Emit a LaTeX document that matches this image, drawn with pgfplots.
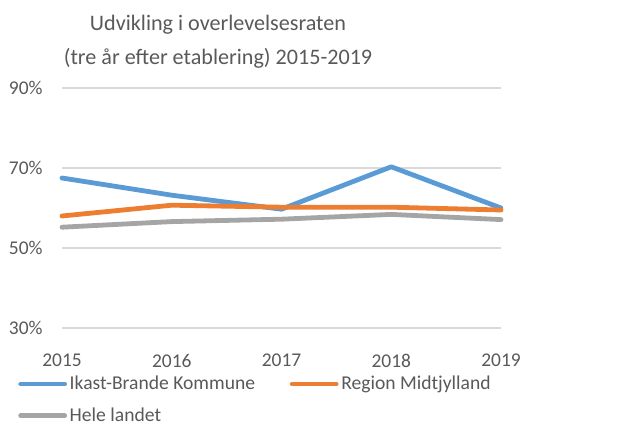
\documentclass[border=0pt]{standalone}
\usepackage{pgfplots}
\pgfplotsset{compat=1.18}
\usepackage{fontspec}
\setmainfont{Carlito}
\definecolor{cblue}{HTML}{5B9BD5}
\definecolor{corange}{HTML}{ED7D31}
\definecolor{cgray}{HTML}{A5A5A5}
\definecolor{ctext}{HTML}{595959}
\definecolor{cgrid}{HTML}{D9D9D9}
\begin{document}
\begin{tikzpicture}
\path[use as bounding box] (-46.5pt,-74.25pt) rectangle (422.25pt,246pt);
\begin{axis}[
  at={(0,0)}, anchor=south west,
  scale only axis, width=329.25pt, height=180pt,
  xmin=2015, xmax=2019, ymin=30, ymax=90,
  axis line style={draw=none},
  ymajorgrids, grid style={cgrid, line width=1pt},
  ytick={30,50,70,90}, yticklabels={30\%,50\%,70\%,90\%},
  xtick={2015,2016,2017,2018,2019}, xticklabels={2015,2016,2017,2018,2019},
  major tick length=0pt,
  ticklabel style={font=\fontsize{14.6}{17}\selectfont, text=ctext},
  yticklabel style={xshift=-11pt},
  xticklabel style={yshift=-16pt},
  clip=false,
  legend columns=2,
  legend cell align=left,
  legend style={draw=none, fill=none, at={(0,0)}, anchor=north west,
    xshift=-33pt, yshift=-34pt, inner sep=0pt,
    font=\fontsize{14.7}{17}\selectfont, text=ctext,
    /tikz/every even column/.append style={column sep=24pt},
    row sep=8pt},
  legend image code/.code={\draw[line width=3.6pt, line cap=round] (0pt,0pt) -- (33pt,0pt);},
  every axis plot/.append style={line width=3.6pt, line cap=round, line join=round},
]
\addplot[cblue] coordinates {(2015,67.5) (2016,63.2) (2017,59.7) (2018,70.3) (2019,60.0)};
\addlegendentry{Ikast-Brande Kommune}
\addplot[corange] coordinates {(2015,58.0) (2016,60.7) (2017,60.2) (2018,60.2) (2019,59.5)};
\addlegendentry{Region Midtjylland}
\addplot[cgray] coordinates {(2015,55.2) (2016,56.6) (2017,57.2) (2018,58.4) (2019,57.1)};
\addlegendentry{Hele landet}
\end{axis}
\node[text=ctext] at (117pt,227.25pt) {\fontsize{16.6}{19}\selectfont Udvikling i overlevelsesraten};
\node[text=ctext] at (117pt,202.5pt) {\fontsize{16.6}{19}\selectfont (tre år efter etablering) 2015-2019};
\end{tikzpicture}
\end{document}
